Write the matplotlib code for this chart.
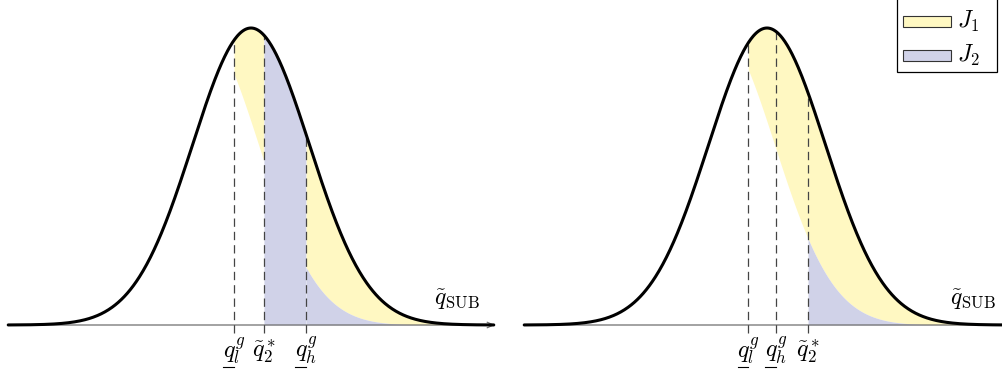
import numpy as np
import matplotlib
matplotlib.use("Agg")
import matplotlib.pyplot as plt
from matplotlib.patches import Rectangle
from matplotlib.lines import Line2D

plt.rcParams['mathtext.fontset'] = 'cm'
plt.rcParams['font.family'] = ['DejaVu Serif']
plt.rcParams['lines.scale_dashes'] = False

# ---- data (in units of the curve's standard deviation, peak at 0) ----
shift = 0.87                      # horizontal offset of the lower (shifted) density
left_cuts = [-0.29, 0.22, 0.94]   # q_l^g, q2*, q_h^g
left_labels = [r'$q_l^g$', r'$\tilde{q}_2^*$', r'$q_h^g$']
left_under = [True, False, True]
right_cuts = [-0.32, 0.15, 0.70]  # q_l^g, q_h^g, q2*
right_labels = [r'$q_l^g$', r'$q_h^g$', r'$\tilde{q}_2^*$']
right_under = [True, True, False]
axis_label = r'$\tilde{q}_{\mathrm{SUB}}$'
legend_labels = [r'$J_1$', r'$J_2$']

YELLOW = '#FFF8C2'
BLUE = '#D0D2E8'
LEG_COLORS = [YELLOW, BLUE]

def f(x):
    return np.exp(-x ** 2 / 2)

def g(x):
    return f(x + shift)

W, H = 1002, 377
fig = plt.figure(figsize=(W / 100, H / 100), dpi=100)
px = 58.5       # pixels per sigma
base = 325      # baseline pixel row
peak_h = 297    # pixel height of the peak
FS = 17.5

def make_ax(x0, x1, center):
    ax = fig.add_axes([x0 / W, 0, (x1 - x0) / W, 1])
    ax.set_xlim((x0 - center) / px, (x1 - center) / px)
    ax.set_ylim((base - H) / peak_h, base / peak_h)
    ax.axis('off')
    return ax

axL = make_ax(0, 508, 251)
axR = make_ax(508, W, 767)

underline_texts = []

def draw_common(ax, cuts, labels, unders, x_end):
    xs = np.linspace(-4.15, 4.15, 800)
    ax.annotate('', xy=(x_end, 0), xytext=(-4.15, 0),
                arrowprops=dict(arrowstyle='->,head_length=0.45,head_width=0.2',
                                color='#6e6e6e', lw=0.9, shrinkA=0, shrinkB=0),
                zorder=2, annotation_clip=False)
    for c in cuts:
        ax.plot([c, c], [-0.027, f(c)], color='#444444', lw=0.9,
                dashes=(6.0, 3.6), zorder=3)
    for c, lab, u in zip(cuts, labels, unders):
        t = ax.text(c, -0.108, lab, ha='center', va='baseline', fontsize=FS, zorder=5)
        if u:
            underline_texts.append(t)
    ax.plot(xs, f(xs), color='black', lw=2.2, zorder=4, solid_capstyle='round')
    ax.text(3.92, 0.067, axis_label, ha='right', va='baseline', fontsize=17)

# ---- left panel ----
ql, q2, qh = left_cuts
xs = np.linspace(ql, 4.15, 1200)
m = (xs >= ql) & (xs <= q2)
axL.fill_between(xs[m], g(xs[m]), f(xs[m]), color=YELLOW, lw=0, zorder=1)
m = (xs >= q2) & (xs <= qh)
axL.fill_between(xs[m], 0, f(xs[m]), color=BLUE, lw=0, zorder=1)
m = xs >= qh
axL.fill_between(xs[m], g(xs[m]), f(xs[m]), color=YELLOW, lw=0, zorder=1)
axL.fill_between(xs[m], 0, g(xs[m]), color=BLUE, lw=0, zorder=1)
draw_common(axL, left_cuts, left_labels, left_under, 4.17)

# ---- right panel ----
ql, qh, q2 = right_cuts
xs = np.linspace(ql, 4.15, 1200)
axR.fill_between(xs, g(xs), f(xs), color=YELLOW, lw=0, zorder=1)
m = xs >= q2
axR.fill_between(xs[m], 0, g(xs[m]), color=BLUE, lw=0, zorder=1)
draw_common(axR, right_cuts, right_labels, right_under, 4.3)

# ---- legend (box clipped by the top edge, as in the reference) ----
def fx(p):
    return p / W

def fy(p):
    return (H - p) / H

fig.add_artist(Rectangle((fx(897), fy(72)), fx(997) - fx(897), fy(-5) - fy(72),
                         transform=fig.transFigure, facecolor='white',
                         edgecolor='black', lw=0.9, zorder=10))
for i, (col, lab) in enumerate(zip(LEG_COLORS, legend_labels)):
    yc = 21 + 34 * i
    fig.add_artist(Rectangle((fx(903), fy(yc + 5.5)), fx(951) - fx(903), 11 / H,
                             transform=fig.transFigure, facecolor=col,
                             edgecolor='#333333', lw=0.8, zorder=11))
    fig.text(fx(957), fy(yc), lab, ha='left', va='center', fontsize=17, zorder=12)

# underlines beneath the q of the underlined labels
fig.canvas.draw()
r = fig.canvas.get_renderer()
for t in underline_texts:
    bb = t.get_window_extent(r)
    x0 = bb.x0 + 0.5
    x1 = bb.x0 + 0.50 * bb.width
    yy = H - 367
    fig.add_artist(Line2D([x0 / W, x1 / W], [yy / H, yy / H], color='black',
                          lw=0.8, transform=fig.transFigure))

fig.savefig('out.png', dpi=100)
